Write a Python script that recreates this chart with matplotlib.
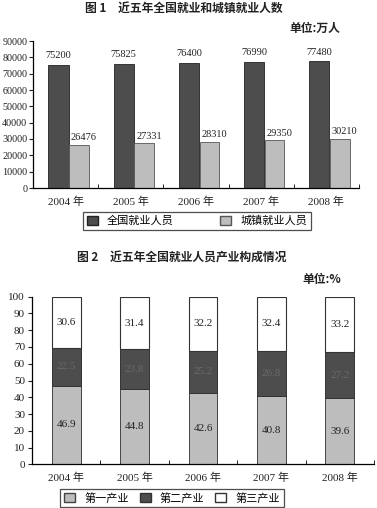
import matplotlib
matplotlib.use("Agg")
import matplotlib.pyplot as plt
from matplotlib.patches import Patch
import numpy as np

plt.rcParams['font.family'] = ['Liberation Serif', 'Noto Sans CJK SC']

years = ["2004 年", "2005 年", "2006 年", "2007 年", "2008 年"]
total_emp = [75200, 75825, 76400, 76990, 77480]
urban_emp = [26476, 27331, 28310, 29350, 30210]
primary = [46.9, 44.8, 42.6, 40.8, 39.6]
secondary = [22.5, 23.8, 25.2, 26.8, 27.2]
tertiary = [30.6, 31.4, 32.2, 32.4, 33.2]

dark = "#4d4d4d"
light = "#bdbdbd"
cjk = ['Noto Sans CJK SC']

W, H = 377, 508
fig = plt.figure(figsize=(W / 100, H / 100), dpi=100)


def style(ax):
    for s in ["top", "right"]:
        ax.spines[s].set_visible(False)
    ax.spines["left"].set_linewidth(0.9)
    ax.spines["bottom"].set_linewidth(0.9)
    ax.set_xlim(-0.5, 4.5)
    ax.set_xticks(range(5))
    ax.set_xticklabels(years, fontsize=8, color="#222")
    ax.tick_params(axis="x", which="major", length=0, pad=6)
    ax.set_xticks(np.arange(-0.5, 5, 1), minor=True)
    ax.tick_params(axis="x", which="minor", length=3, direction="in")
    ax.tick_params(axis="y", length=3, labelsize=8, pad=2, colors="#222")


# chart 1
ax1 = fig.add_axes([33 / W, 1 - 188 / H, 326 / W, 147 / H])
x = np.arange(5)
ax1.bar(x - 0.11, total_emp, 0.31, color=dark, edgecolor="#222", linewidth=0.6)
ax1.bar(x + 0.205, urban_emp, 0.30, color=light, edgecolor="#555", linewidth=0.6)
for i in range(5):
    ax1.text(x[i] - 0.11, total_emp[i] + 3000, str(total_emp[i]), ha="center",
             va="bottom", fontsize=7.5, color="#222")
    ax1.text(x[i] + 0.28, urban_emp[i] + 1500, str(urban_emp[i]), ha="center",
             va="bottom", fontsize=7.5, color="#222")
ax1.set_ylim(0, 90000)
ax1.set_yticks(range(0, 90001, 10000))
style(ax1)
ax1.tick_params(axis="y", labelsize=7.3, pad=1.2, length=3)

fig.text(184 / W, 1 - 8 / H, "图 1　近五年全国就业和城镇就业人数", ha="center",
         va="center", fontsize=8.5, family=cjk, fontweight="bold", color="#222")
fig.text(340 / W, 1 - 28 / H, "单位:万人", ha="right", va="center", fontsize=8.5,
         family=cjk, fontweight="bold", color="#222")

leg1 = ax1.legend(handles=[Patch(facecolor=dark, edgecolor="#222", label="全国就业人员"),
                           Patch(facecolor=light, edgecolor="#555", label="城镇就业人员")],
                  loc="center", bbox_to_anchor=(197 / W, 1 - 221 / H),
                  bbox_transform=fig.transFigure, ncol=2,
                  frameon=True, fancybox=False, edgecolor="#222",
                  handlelength=1.0, handleheight=0.9, columnspacing=4.2,
                  borderpad=0.35, prop={'family': cjk, 'size': 8})
leg1.get_frame().set_linewidth(0.9)

# chart 2
ax2 = fig.add_axes([32 / W, 1 - 464.3 / H, 342 / W, 167.6 / H])
bw = 0.42
ax2.bar(x, primary, bw, color=light, edgecolor="#444", linewidth=0.7)
ax2.bar(x, secondary, bw, bottom=primary, color=dark, edgecolor="#333", linewidth=0.7)
bottom3 = [p + s for p, s in zip(primary, secondary)]
ax2.bar(x, tertiary, bw, bottom=bottom3, color="white", edgecolor="#333", linewidth=0.8)
for i in range(5):
    ax2.text(x[i], primary[i] / 2, f"{primary[i]:.1f}", ha="center", va="center",
             fontsize=8, color="#222")
    ax2.text(x[i], primary[i] + secondary[i] / 2, f"{secondary[i]:.1f}", ha="center",
             va="center", fontsize=8, color="#6a6a6a")
    ax2.text(x[i], bottom3[i] + tertiary[i] / 2, f"{tertiary[i]:.1f}", ha="center",
             va="center", fontsize=8, color="#222")
ax2.set_ylim(0, 100)
ax2.set_yticks(range(0, 101, 10))
style(ax2)

fig.text(182 / W, 1 - 258 / H, "图 2　近五年全国就业人员产业构成情况", ha="center",
         va="center", fontsize=8.5, family=cjk, fontweight="bold", color="#222")
fig.text(341 / W, 1 - 279 / H, "单位:%", ha="right", va="center", fontsize=8.5,
         family=cjk, fontweight="bold", color="#222")

leg2 = ax2.legend(handles=[Patch(facecolor=light, edgecolor="#444", label="第一产业"),
                           Patch(facecolor=dark, edgecolor="#333", label="第二产业"),
                           Patch(facecolor="white", edgecolor="#333", label="第三产业")],
                  loc="center", bbox_to_anchor=(172 / W, 1 - 498 / H),
                  bbox_transform=fig.transFigure, ncol=3,
                  frameon=True, fancybox=False, edgecolor="#222",
                  handlelength=1.0, handleheight=0.9, columnspacing=1.0,
                  borderpad=0.35, prop={'family': cjk, 'size': 8})
leg2.get_frame().set_linewidth(0.9)

fig.savefig("out.png", dpi=100, facecolor="white")
